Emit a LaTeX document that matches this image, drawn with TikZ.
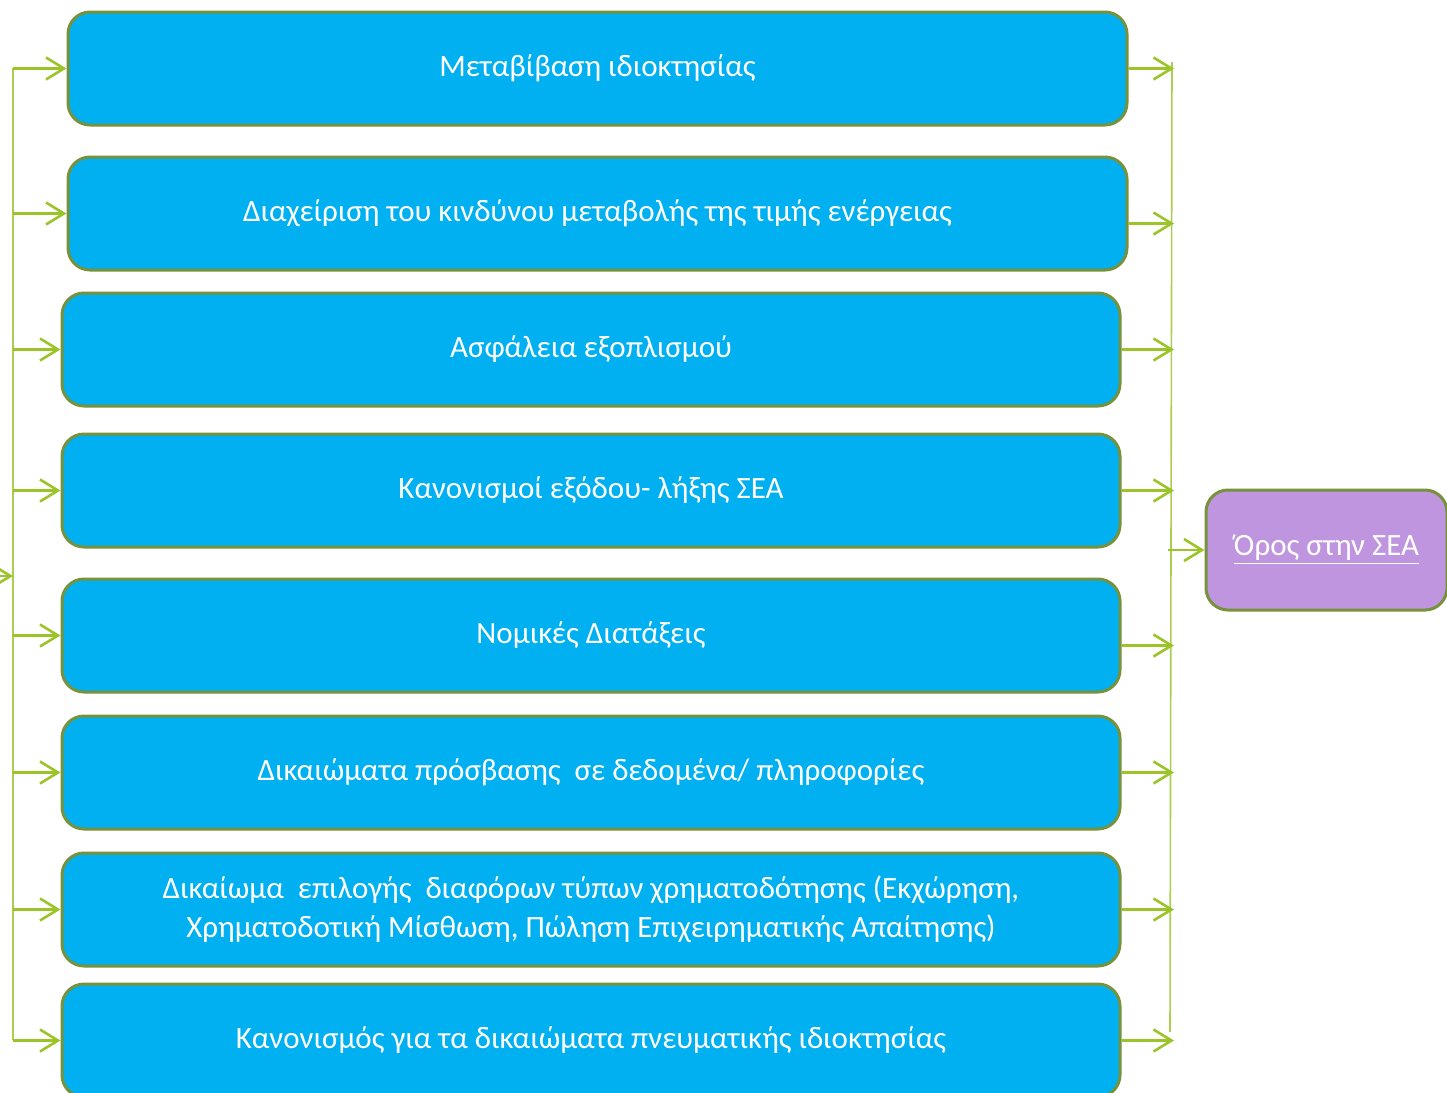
\documentclass[tikz,border=0pt]{standalone}
\usepackage{fontspec}
\setmainfont{Carlito}
\usetikzlibrary{arrows.meta,positioning,shapes}
\definecolor{boxblue}{HTML}{00B0F0}
\definecolor{boxline}{HTML}{76923C}
\definecolor{arrowgreen}{RGB}{154,196,40}
\definecolor{busgreen}{RGB}{170,206,80}
\definecolor{termpurple}{HTML}{BF95DF}
\begin{document}
\begin{tikzpicture}[x = 0.5pt, y = -0.5pt,every node/.style={font=\fontsize{15.5}{19.5}\selectfont},
box/.style={align=center,rectangle,draw=boxline,line width=1.5pt,rounded corners=11pt,fill=boxblue,text=white,minimum height=56.5pt},
link/.style={-{Straight Barb[length=9pt,width=11pt,line width=1.3pt]},draw=arrowgreen,line width=1.3pt},
bus/.style={draw=busgreen,line width=0.8pt}]
\useasboundingbox (0,0) rectangle (1447,1093);
\node[box,minimum width=529.5pt] (transfer) at (597.5,68.5) {Μεταβίβαση ιδιοκτησίας};
\node[box,minimum width=529.5pt] (risk) at (597.5,213.5) {Διαχείριση του κινδύνου μεταβολής της τιμής ενέργειας};
\node[box,minimum width=529pt] (insurance) at (591,349.5) {Ασφάλεια εξοπλισμού};
\node[box,minimum width=529pt] (exit) at (591,490.5) {Κανονισμοί εξόδου- λήξης ΣΕΑ};
\node[box,minimum width=529pt] (legal) at (591,635.5) {Νομικές Διατάξεις};
\node[box,minimum width=529pt] (access) at (591,772.5) {Δικαιώματα πρόσβασης\ \ σε δεδομένα/ πληροφορίες};
\node[box,minimum width=529pt] (finance) at (591,909.5) {Δικαίωμα\ \ επιλογής\ \ διαφόρων τύπων χρηματοδότησης (Εκχώρηση,\\Χρηματοδοτική Μίσθωση, Πώληση Επιχειρηματικής Απαίτησης)};
\node[box,minimum width=529pt] (ip) at (591,1040.5) {Κανονισμός για τα δικαιώματα πνευματικής ιδιοκτησίας};
\node[box,fill=termpurple,minimum width=120.5pt,minimum height=60pt] (term) at (1326.5,550) {\underline{Όρος στην ΣΕΑ}};
% left and right bus
\coordinate (ltop) at (13,68);
\coordinate (lbot) at (13,1040);
\coordinate (rtop) at (1172,62);
\coordinate (rbot) at (1170,1032);
\coordinate (in) at (-12,576);
\draw[bus] (ltop) -- (lbot);
\draw[bus] (rtop) -- (rbot);
\draw[link] (in) -- (in -| ltop);
\foreach \b in {transfer,risk,insurance,exit,legal,access,finance,ip}
  \draw[link] (\b.west -| ltop) -- (\b.west);
\foreach \b in {transfer,insurance,exit,access,finance,ip}
  \draw[link] (\b.east) -- ([xshift=1pt]\b.east -| rtop);
\draw[link] ([yshift=-5pt]risk.east) -- ([yshift=-5pt,xshift=1pt]risk.east -| rtop);
\draw[link] ([yshift=-5pt]legal.east) -- ([yshift=-5pt,xshift=1pt]legal.east -| rtop);
\draw[link] ([xshift=-2pt]term.west -| rtop) -- (term.west);
\end{tikzpicture}
\end{document}
